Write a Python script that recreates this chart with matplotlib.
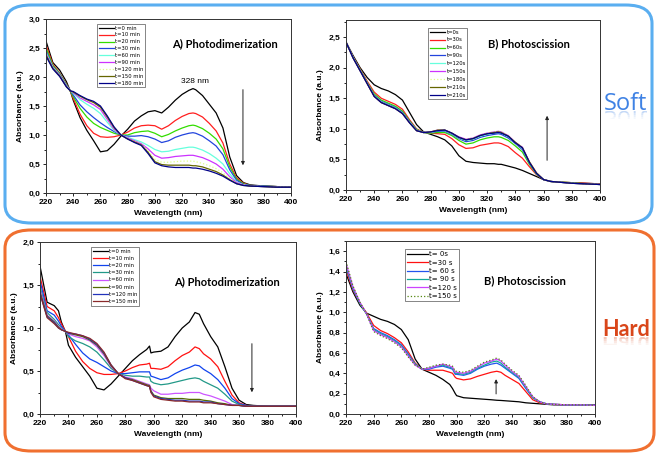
import matplotlib
matplotlib.use('Agg')
import matplotlib.pyplot as plt
from matplotlib import font_manager
from matplotlib.patches import FancyBboxPatch, PathPatch, Rectangle
from matplotlib.textpath import TextPath
from matplotlib.font_manager import FontProperties
from matplotlib.transforms import Affine2D
from matplotlib.ticker import MultipleLocator, FuncFormatter

# ---------- Soft, A) photodimerization ----------
wl_a_soft = [220, 225, 230, 235, 238, 240, 245, 250, 255, 260, 265, 270, 275, 280, 285, 290, 295, 300,
             305, 310, 315, 320, 325, 328, 330, 335, 340, 345, 350, 355, 360, 365, 370, 380, 390, 400]
labels_a_soft = ['t=0 min', 't=10 min', 't=20 min', 't=30 min', 't=60 min', 't=90 min',
                 't=120 min', 't=150 min', 't=180 min']
a_soft_t0 = [2.62, 2.25, 2.12, 1.92, 1.75, 1.6, 1.3, 1.08, 0.9, 0.71, 0.73, 0.84, 0.98, 1.1, 1.24, 1.33, 1.4, 1.42,
             1.38, 1.48, 1.6, 1.7, 1.77, 1.8, 1.78, 1.68, 1.53, 1.38, 1.12, 0.62, 0.3, 0.18, 0.14, 0.12, 0.11, 0.1]
a_soft_t10 = [2.55, 2.22, 2.07, 1.88, 1.75, 1.63, 1.36, 1.16, 1.03, 0.97, 0.96, 0.97, 1.0, 1.05, 1.12, 1.16, 1.17, 1.16,
              1.1, 1.16, 1.25, 1.32, 1.37, 1.38, 1.37, 1.31, 1.2, 1.07, 0.86, 0.5, 0.26, 0.17, 0.13, 0.12, 0.11, 0.1]
a_soft_t20 = [2.5, 2.2, 2.06, 1.87, 1.75, 1.66, 1.46, 1.31, 1.2, 1.13, 1.08, 1.03, 1.0, 1.0, 1.04, 1.06, 1.07, 1.03,
              0.97, 1.01, 1.07, 1.12, 1.16, 1.17, 1.16, 1.11, 1.03, 0.93, 0.76, 0.45, 0.24, 0.16, 0.13, 0.12, 0.11, 0.1]
a_soft_t30 = [2.45, 2.18, 2.05, 1.86, 1.76, 1.69, 1.52, 1.4, 1.3, 1.21, 1.13, 1.06, 1.0, 0.98, 0.98, 0.99, 0.97, 0.93,
              0.87, 0.9, 0.96, 1.0, 1.03, 1.04, 1.03, 0.98, 0.9, 0.81, 0.66, 0.4, 0.22, 0.15, 0.13, 0.12, 0.11, 0.1]
a_soft_t60 = [2.42, 2.17, 2.04, 1.85, 1.76, 1.72, 1.61, 1.53, 1.46, 1.37, 1.22, 1.08, 1.0, 0.96, 0.92, 0.88, 0.82, 0.75,
              0.71, 0.72, 0.75, 0.77, 0.79, 0.79, 0.78, 0.74, 0.68, 0.6, 0.5, 0.33, 0.19, 0.14, 0.12, 0.11, 0.1, 0.1]
a_soft_t90 = [2.4, 2.16, 2.03, 1.84, 1.76, 1.73, 1.64, 1.58, 1.52, 1.44, 1.27, 1.1, 1.0, 0.95, 0.9, 0.85, 0.76, 0.65,
              0.6, 0.61, 0.63, 0.64, 0.65, 0.65, 0.64, 0.61, 0.56, 0.5, 0.41, 0.28, 0.18, 0.14, 0.12, 0.11, 0.1, 0.1]
a_soft_t120 = [2.4, 2.15, 2.02, 1.84, 1.76, 1.74, 1.66, 1.6, 1.55, 1.47, 1.3, 1.12, 1.0, 0.94, 0.89, 0.84, 0.73, 0.58,
               0.53, 0.53, 0.54, 0.55, 0.55, 0.55, 0.54, 0.51, 0.47, 0.42, 0.35, 0.25, 0.17, 0.14, 0.12, 0.11, 0.1, 0.1]
a_soft_t150 = [2.38, 2.15, 2.02, 1.83, 1.76, 1.74, 1.67, 1.61, 1.56, 1.48, 1.31, 1.13, 1.0, 0.93, 0.88, 0.83, 0.7, 0.54,
               0.49, 0.48, 0.48, 0.48, 0.48, 0.47, 0.47, 0.45, 0.41, 0.37, 0.31, 0.23, 0.16, 0.13, 0.12, 0.11, 0.1, 0.1]
a_soft_t180 = [2.36, 2.14, 2.01, 1.83, 1.76, 1.75, 1.68, 1.62, 1.58, 1.5, 1.33, 1.14, 1.0, 0.93, 0.87, 0.82, 0.68, 0.52,
               0.47, 0.45, 0.44, 0.44, 0.44, 0.43, 0.43, 0.41, 0.38, 0.34, 0.29, 0.22, 0.16, 0.13, 0.12, 0.11, 0.1, 0.1]

# ---------- Soft, B) photoscission ----------
wl_b_soft = [220, 225, 230, 235, 240, 245, 250, 255, 260, 265, 270, 275, 280, 285, 290, 295, 300, 305,
             310, 315, 320, 325, 328, 330, 335, 340, 345, 350, 355, 360, 365, 370, 380, 390, 400]
labels_b_soft = ['t=0s', 't=30s', 't=60s', 't=90s', 't=120s', 't=150s', 't=180s', 't=210s', 't=210s']
b_soft_t0 = [2.42, 2.2, 2.0, 1.84, 1.72, 1.66, 1.62, 1.56, 1.47, 1.27, 1.07, 0.95, 0.91, 0.87, 0.82, 0.72, 0.56, 0.47,
             0.45, 0.44, 0.43, 0.43, 0.42, 0.42, 0.39, 0.36, 0.32, 0.27, 0.22, 0.17, 0.14, 0.13, 0.12, 0.11, 0.1]
b_soft_t30 = [2.42, 2.18, 1.98, 1.78, 1.6, 1.5, 1.45, 1.4, 1.32, 1.15, 1.0, 0.94, 0.93, 0.92, 0.91, 0.84, 0.74, 0.68,
              0.69, 0.73, 0.75, 0.77, 0.77, 0.76, 0.71, 0.61, 0.52, 0.38, 0.25, 0.17, 0.14, 0.13, 0.12, 0.11, 0.1]
b_soft_t60 = [2.42, 2.17, 1.97, 1.76, 1.57, 1.47, 1.42, 1.37, 1.29, 1.13, 0.99, 0.94, 0.93, 0.94, 0.94, 0.89, 0.81, 0.75,
              0.77, 0.82, 0.85, 0.87, 0.87, 0.86, 0.81, 0.72, 0.62, 0.42, 0.26, 0.17, 0.14, 0.13, 0.12, 0.1, 0.09]
b_soft_t90 = [2.42, 2.17, 1.96, 1.75, 1.55, 1.45, 1.4, 1.35, 1.27, 1.12, 0.98, 0.94, 0.94, 0.96, 0.96, 0.91, 0.84, 0.79,
              0.81, 0.86, 0.89, 0.91, 0.92, 0.91, 0.85, 0.76, 0.66, 0.44, 0.27, 0.17, 0.14, 0.13, 0.11, 0.1, 0.09]
b_soft_t120 = [2.42, 2.17, 1.96, 1.75, 1.54, 1.44, 1.39, 1.34, 1.26, 1.11, 0.98, 0.94, 0.94, 0.97, 0.97, 0.92, 0.85, 0.81,
               0.83, 0.88, 0.91, 0.93, 0.94, 0.93, 0.87, 0.77, 0.68, 0.45, 0.27, 0.17, 0.14, 0.13, 0.11, 0.1, 0.09]
b_soft_t150 = [2.42, 2.16, 1.95, 1.74, 1.53, 1.43, 1.38, 1.33, 1.25, 1.1, 0.97, 0.94, 0.95, 0.98, 0.98, 0.93, 0.87, 0.83,
               0.85, 0.9, 0.93, 0.95, 0.96, 0.95, 0.89, 0.78, 0.7, 0.46, 0.28, 0.17, 0.14, 0.13, 0.11, 0.1, 0.09]
b_soft_t180 = [2.42, 2.16, 1.95, 1.74, 1.53, 1.43, 1.38, 1.33, 1.25, 1.1, 0.97, 0.94, 0.95, 0.98, 0.98, 0.93, 0.86, 0.83,
               0.85, 0.9, 0.93, 0.95, 0.96, 0.95, 0.89, 0.78, 0.7, 0.46, 0.28, 0.17, 0.14, 0.13, 0.11, 0.1, 0.09]
b_soft_t210 = [2.42, 2.16, 1.95, 1.74, 1.53, 1.43, 1.38, 1.33, 1.25, 1.1, 0.97, 0.94, 0.95, 0.98, 0.98, 0.93, 0.86, 0.82,
               0.84, 0.89, 0.92, 0.94, 0.95, 0.94, 0.88, 0.78, 0.69, 0.46, 0.28, 0.17, 0.14, 0.13, 0.11, 0.1, 0.09]
b_soft_t210b = [2.42, 2.16, 1.95, 1.74, 1.53, 1.43, 1.38, 1.33, 1.25, 1.1, 0.97, 0.94, 0.95, 0.97, 0.98, 0.93, 0.86, 0.82,
                0.84, 0.89, 0.92, 0.93, 0.94, 0.93, 0.88, 0.77, 0.69, 0.45, 0.27, 0.17, 0.14, 0.13, 0.11, 0.1, 0.09]

# ---------- Hard, A) photodimerization ----------
wl_a_hard = [220, 225, 230, 233, 235, 238, 240, 245, 250, 255, 260, 265, 270, 275, 280, 285, 290, 295, 297, 298,
             300, 305, 310, 315, 320, 325, 329, 332, 335, 340, 345, 350, 355, 360, 365, 370, 380, 390, 400]
labels_a_hard = ['t=0 min', 't=10 min', 't=20 min', 't=30 min', 't=60 min', 't=90 min', 't=120 min', 't=150 min']
a_hard_t0 = [1.72, 1.3, 1.26, 1.2, 1.07, 0.95, 0.8, 0.66, 0.55, 0.44, 0.3, 0.28, 0.35, 0.44, 0.53, 0.62, 0.69, 0.75, 0.79, 0.71,
             0.72, 0.73, 0.78, 0.9, 1.0, 1.07, 1.18, 1.16, 1.05, 0.9, 0.78, 0.55, 0.3, 0.16, 0.11, 0.1, 0.09, 0.09, 0.09]
a_hard_t10 = [1.6, 1.25, 1.2, 1.12, 1.05, 0.96, 0.9, 0.73, 0.61, 0.53, 0.48, 0.46, 0.46, 0.47, 0.5, 0.54, 0.57, 0.58, 0.59, 0.53,
              0.53, 0.52, 0.55, 0.62, 0.68, 0.72, 0.78, 0.76, 0.7, 0.64, 0.55, 0.38, 0.22, 0.13, 0.1, 0.09, 0.09, 0.09, 0.09]
a_hard_t20 = [1.55, 1.2, 1.15, 1.08, 1.02, 0.96, 0.92, 0.81, 0.71, 0.64, 0.6, 0.55, 0.5, 0.47, 0.47, 0.48, 0.49, 0.49, 0.49, 0.44,
              0.43, 0.4, 0.42, 0.47, 0.51, 0.54, 0.57, 0.56, 0.52, 0.47, 0.4, 0.3, 0.18, 0.12, 0.1, 0.09, 0.09, 0.09, 0.09]
a_hard_t30 = [1.48, 1.18, 1.1, 1.04, 1.0, 0.96, 0.9, 0.85, 0.82, 0.78, 0.72, 0.63, 0.53, 0.47, 0.45, 0.44, 0.44, 0.43, 0.43, 0.38,
              0.36, 0.34, 0.35, 0.37, 0.39, 0.41, 0.42, 0.41, 0.38, 0.34, 0.3, 0.23, 0.15, 0.11, 0.09, 0.09, 0.09, 0.09, 0.09]
a_hard_t60 = [1.45, 1.15, 1.08, 1.02, 0.99, 0.96, 0.93, 0.9, 0.88, 0.85, 0.78, 0.68, 0.55, 0.47, 0.43, 0.41, 0.38, 0.35, 0.34, 0.3,
              0.27, 0.23, 0.23, 0.24, 0.24, 0.25, 0.25, 0.25, 0.23, 0.21, 0.18, 0.15, 0.11, 0.1, 0.09, 0.09, 0.09, 0.09, 0.09]
a_hard_t90 = [1.42, 1.14, 1.07, 1.01, 0.98, 0.96, 0.94, 0.92, 0.9, 0.86, 0.8, 0.7, 0.56, 0.47, 0.42, 0.4, 0.37, 0.34, 0.33, 0.27,
              0.22, 0.19, 0.18, 0.18, 0.18, 0.17, 0.17, 0.17, 0.16, 0.15, 0.13, 0.12, 0.1, 0.1, 0.09, 0.09, 0.09, 0.09, 0.09]
a_hard_t120 = [1.4, 1.13, 1.06, 1.0, 0.98, 0.96, 0.94, 0.93, 0.91, 0.87, 0.81, 0.71, 0.57, 0.47, 0.42, 0.39, 0.36, 0.33, 0.32, 0.26,
               0.21, 0.18, 0.17, 0.16, 0.16, 0.15, 0.15, 0.15, 0.14, 0.14, 0.12, 0.11, 0.1, 0.1, 0.09, 0.09, 0.09, 0.09, 0.09]
a_hard_t150 = [1.4, 1.12, 1.05, 1.0, 0.98, 0.96, 0.95, 0.93, 0.91, 0.88, 0.82, 0.72, 0.57, 0.47, 0.41, 0.39, 0.36, 0.33, 0.32, 0.25,
               0.2, 0.17, 0.16, 0.15, 0.15, 0.14, 0.14, 0.14, 0.13, 0.13, 0.12, 0.11, 0.1, 0.1, 0.09, 0.09, 0.09, 0.09, 0.09]

# ---------- Hard, B) photoscission ----------
wl_b_hard = [220, 225, 230, 235, 240, 245, 250, 255, 260, 265, 270, 275, 280, 285, 290, 295, 297, 299, 300,
             305, 310, 315, 320, 325, 329, 332, 335, 340, 345, 350, 355, 360, 365, 370, 380, 390, 400]
labels_b_hard = ['t= 0s', 't=30 s', 't= 60 s', 't= 90 s', 't=120 s', 't=150 s']
b_hard_t0 = [1.38, 1.2, 1.07, 0.99, 0.96, 0.93, 0.91, 0.88, 0.83, 0.73, 0.54, 0.44, 0.41, 0.38, 0.34, 0.29, 0.25, 0.2, 0.18,
             0.16, 0.155, 0.15, 0.145, 0.14, 0.135, 0.133, 0.13, 0.125, 0.12, 0.11, 0.105, 0.1, 0.095, 0.09, 0.09, 0.09, 0.09]
b_hard_t30 = [1.42, 1.22, 1.09, 0.99, 0.87, 0.82, 0.79, 0.75, 0.7, 0.61, 0.5, 0.44, 0.43, 0.43, 0.43, 0.41, 0.4, 0.36, 0.35,
              0.335, 0.345, 0.37, 0.39, 0.41, 0.42, 0.41, 0.38, 0.34, 0.3, 0.22, 0.14, 0.11, 0.1, 0.095, 0.09, 0.09, 0.085]
b_hard_t60 = [1.45, 1.23, 1.09, 0.98, 0.84, 0.8, 0.77, 0.73, 0.68, 0.59, 0.49, 0.44, 0.44, 0.46, 0.47, 0.45, 0.44, 0.39, 0.39,
              0.38, 0.4, 0.44, 0.47, 0.49, 0.5, 0.48, 0.45, 0.4, 0.35, 0.25, 0.16, 0.12, 0.1, 0.095, 0.09, 0.09, 0.085]
b_hard_t90 = [1.46, 1.24, 1.09, 0.98, 0.83, 0.79, 0.76, 0.72, 0.67, 0.58, 0.49, 0.44, 0.45, 0.47, 0.48, 0.46, 0.45, 0.4, 0.4,
              0.39, 0.41, 0.45, 0.48, 0.51, 0.52, 0.5, 0.46, 0.41, 0.36, 0.26, 0.16, 0.12, 0.1, 0.095, 0.09, 0.09, 0.085]
b_hard_t120 = [1.48, 1.25, 1.1, 0.98, 0.82, 0.78, 0.75, 0.71, 0.66, 0.57, 0.48, 0.44, 0.45, 0.47, 0.49, 0.47, 0.46, 0.41, 0.41,
               0.4, 0.42, 0.46, 0.5, 0.52, 0.54, 0.52, 0.48, 0.42, 0.37, 0.27, 0.17, 0.12, 0.1, 0.095, 0.09, 0.09, 0.085]
b_hard_t150 = [1.5, 1.26, 1.1, 0.98, 0.81, 0.77, 0.74, 0.7, 0.65, 0.56, 0.48, 0.44, 0.46, 0.48, 0.49, 0.48, 0.47, 0.42, 0.42,
               0.41, 0.43, 0.47, 0.51, 0.53, 0.55, 0.53, 0.49, 0.43, 0.38, 0.28, 0.17, 0.12, 0.1, 0.095, 0.09, 0.09, 0.085]

soft_colors = ['black', '#ff1f1f', '#33dd00', '#2244dd', '#66ffdd', '#cc33ff', '#ddff88', '#666600', '#000088']
a_hard_colors = ['black', '#ff1111', '#1144ee', '#229988', '#cc55ff', '#556b00', '#2233bb', '#8b2a2a']
b_hard_colors = ['black', '#ff1111', '#2255ee', '#11aa99', '#cc44ff', '#558811']

# narrow face for "Hard" if the system has one
installed = {f.name for f in font_manager.fontManager.ttflist}
if 'Liberation Sans Narrow' in installed:
    hard_font, hard_size, hard_weight = 'Liberation Sans Narrow', 17.5, 'bold'
else:
    hard_font, hard_size, hard_weight = 'Lato', 15.5, 'bold'

W, H = 659, 457
fig = plt.figure(figsize=(W / 100, H / 100), dpi=100)

def fx(x):
    return x / W

def fy(y):
    return 1 - y / H

def comma(v, pos):
    return ('%.1f' % v).replace('.', ',')

def make_ax(x0, y0, x1, y1, ymax, ymajor):
    ax = fig.add_axes([fx(x0), fy(y1), fx(x1 - x0), (y1 - y0) / H])
    ax.set_xlim(220, 400)
    ax.set_ylim(0, ymax)
    ax.xaxis.set_major_locator(MultipleLocator(20))
    ax.xaxis.set_minor_locator(MultipleLocator(10))
    ax.yaxis.set_major_locator(MultipleLocator(ymajor))
    ax.yaxis.set_minor_locator(MultipleLocator(ymajor / 2))
    ax.yaxis.set_major_formatter(FuncFormatter(comma))
    ax.tick_params(which='both', direction='out', top=False, right=False, width=0.6)
    ax.tick_params(which='major', length=2.5, labelsize=6, pad=1.5)
    ax.tick_params(which='minor', length=1.3)
    for lab in ax.get_xticklabels() + ax.get_yticklabels():
        lab.set_fontweight('bold')
        lab.set_family('Liberation Sans')
    for sp in ax.spines.values():
        sp.set_linewidth(0.7)
        sp.set_color('#333333')
    ax.set_xlabel('Wavelength (nm)', fontsize=6, fontweight='bold', family='Liberation Sans', labelpad=3)
    ax.set_ylabel('Absorbance (a.u.)', fontsize=6, fontweight='bold', family='Liberation Sans', labelpad=3)
    return ax

def draw(ax, wl, series, labels, colors, styles, leg_x, leg_y, leg_fs, spacing):
    for s, lab, c, ls in zip(series, labels, colors, styles):
        ax.plot(wl, s, color=c, lw=0.9, ls=ls, label=lab)
    leg = ax.legend(loc='upper left', bbox_to_anchor=(fx(leg_x), fy(leg_y)), bbox_transform=fig.transFigure,
                    fontsize=leg_fs, frameon=True, fancybox=False, edgecolor='#555555', framealpha=1,
                    handlelength=3.0, handletextpad=0.2, labelspacing=spacing, borderpad=0.3, borderaxespad=0)
    leg.get_frame().set_linewidth(0.5)
    return leg

def label_with_reflection(text, x, base, size, color, family, weight):
    fig.text(fx(x), fy(base), text, ha='left', va='baseline', fontsize=size, color=color,
             family=family, fontweight=weight)
    # faded mirror image under the word
    tp = TextPath((0, 0), text, size=size, prop=FontProperties(family=family, weight=weight))
    tr = Affine2D().scale(1 / 72, -1 / 72).translate(x / 100, (H - base - 1) / 100) + fig.dpi_scale_trans
    for i, a in enumerate([0.3, 0.2, 0.12, 0.06]):
        p = PathPatch(tp, transform=tr, fc=color, ec='none', alpha=a)
        clip = Rectangle((fx(x - 5), fy(base + 1 + 2 * (i + 1))), fx(70), 2 / H, transform=fig.transFigure)
        p.set_clip_path(clip)
        fig.patches.append(p)

# rounded frames
fig.patches.append(FancyBboxPatch((fx(5), fy(223)), fx(647), (223 - 5) / H,
                                  boxstyle='round,pad=0,rounding_size=0.04', transform=fig.transFigure,
                                  fc='none', ec='#5aaef0', lw=2.2))
fig.patches.append(FancyBboxPatch((fx(5), fy(451)), fx(649), (451 - 230) / H,
                                  boxstyle='round,pad=0,rounding_size=0.04', transform=fig.transFigure,
                                  fc='none', ec='#f07030', lw=2.2))

# soft A
ax1 = make_ax(46, 19, 291, 193, 3.0, 0.5)
st9 = ['-'] * 6 + [':', '-', '-']
draw(ax1, wl_a_soft, [a_soft_t0, a_soft_t10, a_soft_t20, a_soft_t30, a_soft_t60, a_soft_t90,
                      a_soft_t120, a_soft_t150, a_soft_t180], labels_a_soft, soft_colors, st9, 97, 24, 3.8, 0.36)
ax1.text(0.73, 0.86, 'A) Photodimerization', transform=ax1.transAxes, ha='center', va='center',
         fontsize=8, fontweight='bold', family='Lato')
ax1.text(329.5, 1.93, '328 nm', ha='center', va='center', fontsize=6, family='Liberation Sans')
ax1.annotate('', xy=(364.7, 0.43), xytext=(364.7, 1.83),
             arrowprops=dict(arrowstyle='-|>', color='#222222', lw=0.7, mutation_scale=5))

# soft B
ax2 = make_ax(346, 20, 600, 190, 2.78, 0.5)
draw(ax2, wl_b_soft, [b_soft_t0, b_soft_t30, b_soft_t60, b_soft_t90, b_soft_t120, b_soft_t150,
                      b_soft_t180, b_soft_t210, b_soft_t210b], labels_b_soft, soft_colors, st9, 428, 28, 3.8, 0.55)
ax2.text(0.72, 0.86, 'B) Photoscission', transform=ax2.transAxes, ha='center', va='center',
         fontsize=8, fontweight='bold', family='Lato')
ax2.annotate('', xy=(362.5, 1.26), xytext=(362.5, 0.44),
             arrowprops=dict(arrowstyle='-|>', color='#222222', lw=0.7, mutation_scale=5))

# hard A
ax3 = make_ax(40, 242, 296, 414, 2.0, 0.5)
draw(ax3, wl_a_hard, [a_hard_t0, a_hard_t10, a_hard_t20, a_hard_t30, a_hard_t60, a_hard_t90,
                      a_hard_t120, a_hard_t150], labels_a_hard, a_hard_colors, ['-'] * 8, 91, 247, 3.8, 0.42)
ax3.text(0.73, 0.77, 'A) Photodimerization', transform=ax3.transAxes, ha='center', va='center',
         fontsize=8, fontweight='bold', family='Lato')
ax3.annotate('', xy=(369, 0.22), xytext=(369, 0.85),
             arrowprops=dict(arrowstyle='-|>', color='#222222', lw=0.7, mutation_scale=5))

# hard B
ax4 = make_ax(346, 241, 595, 414, 1.7, 0.2)
draw(ax4, wl_b_hard, [b_hard_t0, b_hard_t30, b_hard_t60, b_hard_t90, b_hard_t120, b_hard_t150],
     labels_b_hard, b_hard_colors, ['-'] * 5 + [':'], 405, 249, 5, 0.35)
ax4.text(0.72, 0.77, 'B) Photoscission', transform=ax4.transAxes, ha='center', va='center',
         fontsize=8, fontweight='bold', family='Lato')
ax4.annotate('', xy=(328.5, 0.37), xytext=(328.5, 0.17),
             arrowprops=dict(arrowstyle='-|>', color='#222222', lw=0.7, mutation_scale=5))

label_with_reflection('Soft', 604, 110, 17, '#3f82e4', 'Open Sans', 'normal')
label_with_reflection('Hard', 602, 336, hard_size, '#d9461a', hard_font, hard_weight)

fig.savefig('out.png', dpi=100)
